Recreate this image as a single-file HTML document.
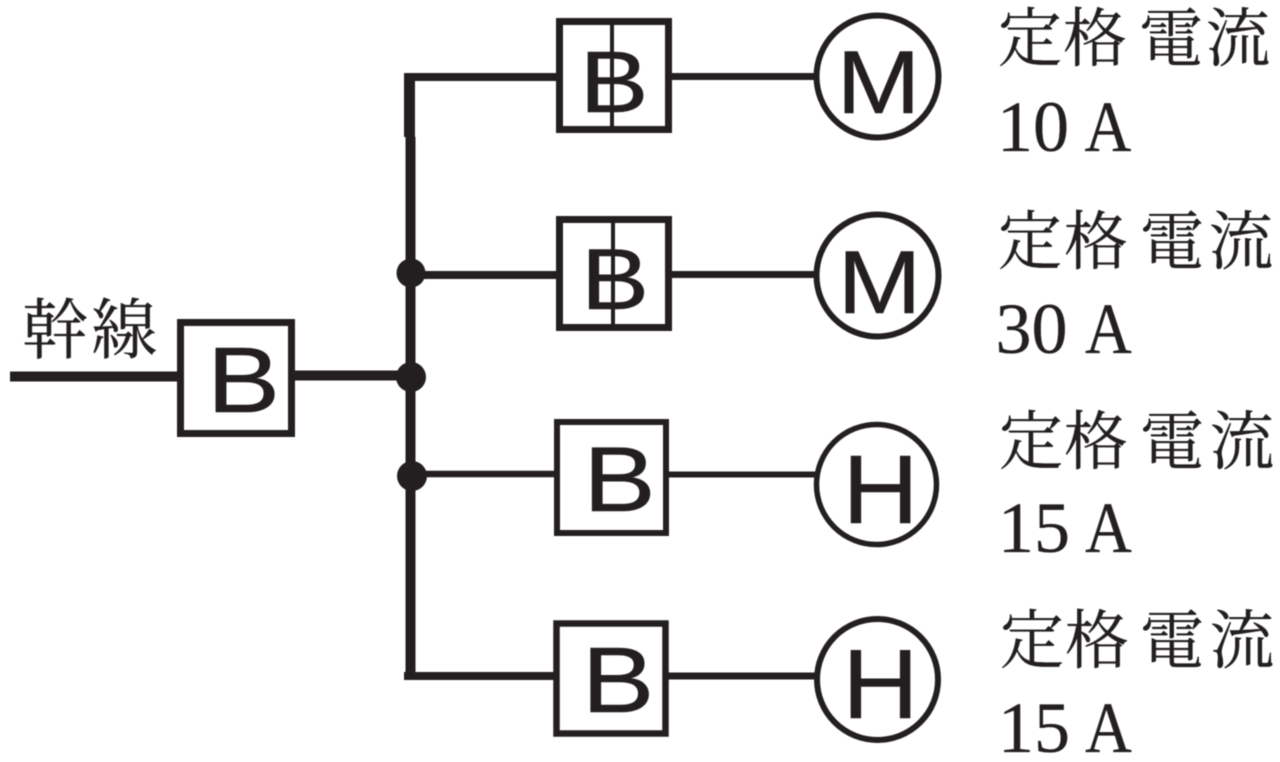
<!DOCTYPE html>
<html lang="ja"><head><meta charset="utf-8"><style>
html,body{margin:0;padding:0;background:#fff;width:1280px;height:762px;overflow:hidden}
svg{display:block;filter:blur(.6px)}
.b{font-family:"Liberation Sans",sans-serif;fill:#231f20;stroke:#231f20;stroke-width:.5;text-anchor:middle}
.j{font-family:"Liberation Serif","Noto Serif CJK SC",serif;font-size:64px;fill:#231f20;stroke:#231f20;stroke-width:.3}
.n{font-family:"Liberation Serif",serif;font-size:72px;fill:#231f20;stroke:#231f20;stroke-width:.3}
rect{fill:#fff;stroke:#231f20}
circle.c{fill:#fff;stroke:#231f20}
</style></head><body>
<svg width="1280" height="762" viewBox="0 0 1280 762" xmlns="http://www.w3.org/2000/svg">
<g stroke="#231f20" fill="none">
<path d="M10 376.5H180" stroke-width="10"/>
<path d="M294 375.5H410" stroke-width="10"/>
<path d="M409.5 73V137" stroke-width="11"/>
<path d="M410.5 137V680" stroke-width="10"/>
<path d="M404 77H558" stroke-width="8"/>
<path d="M670 76.5H815" stroke-width="7"/>
<path d="M410 275H558" stroke-width="8"/>
<path d="M670 274.5H815" stroke-width="7"/>
<path d="M410 474H556" stroke-width="6.5"/>
<path d="M668 474.5H815" stroke-width="6"/>
<path d="M404 676H556" stroke-width="8"/>
<path d="M668 676H815" stroke-width="7"/>
</g>
<circle cx="411" cy="273" r="14.5" fill="#231f20"/>
<circle cx="411" cy="377" r="15" fill="#231f20"/>
<circle cx="412" cy="476" r="15" fill="#231f20"/>
<rect x="180.5" y="322.5" width="111" height="111" stroke-width="7"/>
<rect x="559.5" y="21.5" width="109" height="108" stroke-width="7"/>
<rect x="559.5" y="219.5" width="109" height="108" stroke-width="7"/>
<rect x="557" y="422" width="109" height="111" stroke-width="6"/>
<rect x="556.5" y="623.5" width="109" height="110" stroke-width="6.5"/>
<text class="b" font-size="93" transform="translate(243.5,412) scale(1.18,1)">B</text>
<text class="b" font-size="87" transform="translate(614,112) scale(1.19,1)">B</text>
<text class="b" font-size="86" transform="translate(615,309) scale(1.19,1)">B</text>
<text class="b" font-size="92" transform="translate(619.5,511) scale(1.18,1)">B</text>
<text class="b" font-size="93" transform="translate(618,712) scale(1.17,1)">B</text>
<path d="M612 20V131M613 218V328" stroke="#231f20" stroke-width="4"/>
<circle class="c" cx="877.5" cy="76.5" r="61" stroke-width="6"/>
<circle class="c" cx="877.5" cy="275.5" r="61" stroke-width="6"/>
<circle class="c" cx="876.5" cy="484.5" r="60" stroke-width="5.5"/>
<circle class="c" cx="877.5" cy="679.5" r="60.5" stroke-width="6"/>
<text class="b" font-size="89" transform="translate(878.5,113) scale(1.13,1)">M</text>
<text class="b" font-size="89" transform="translate(879.5,313) scale(1.13,1)">M</text>
<text class="b" font-size="97" transform="translate(880.5,523) scale(1.09,1)">H</text>
<text class="b" font-size="98" transform="translate(880.5,718) scale(1.08,1)">H</text>
<text class="j" y="353" x="22 91" style="font-size:66px">幹線</text>
<text class="j" y="61" x="998 1063 1139 1206">定格電流</text>
<text class="n" x="997" y="151">10</text>
<text class="n" transform="translate(1084.5,151) scale(.9,1)">A</text>
<text class="j" y="264" x="998 1064 1140 1209">定格電流</text>
<text class="n" x="995.5" y="353">30</text>
<text class="n" transform="translate(1085,353) scale(.9,1)">A</text>
<text class="j" y="464" x="999 1064 1140 1210">定格電流</text>
<text class="n" x="998" y="552">15</text>
<text class="n" transform="translate(1085,552) scale(.9,1)">A</text>
<text class="j" y="663" x="1000 1065 1140 1210">定格電流</text>
<text class="n" x="998" y="752">15</text>
<text class="n" transform="translate(1085,752) scale(.9,1)">A</text>
</svg>
</body></html>
